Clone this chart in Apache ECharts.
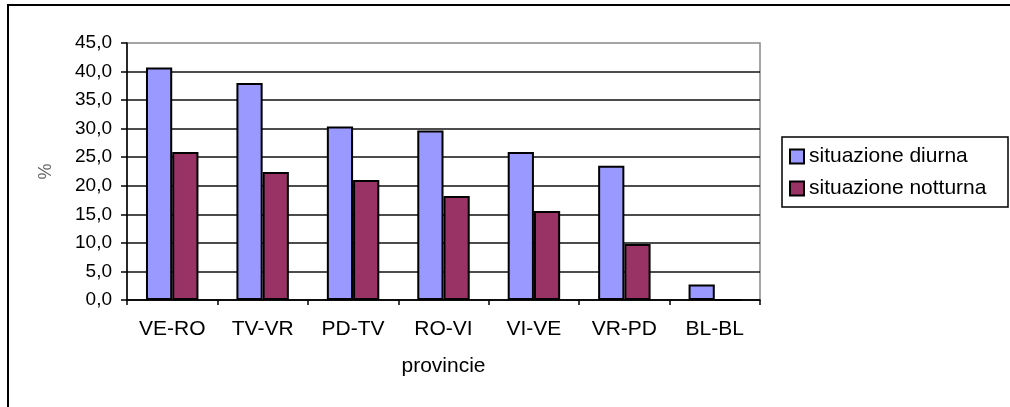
<!DOCTYPE html>
<html>
<head>
<meta charset="utf-8">
<script src="https://cdn.jsdelivr.net/npm/echarts@6/dist/echarts.min.js"></script>
<style>
html,body{margin:0;padding:0;background:#fff;}
#chart{width:1010px;height:407px;}
</style>
</head>
<body>
<div id="chart"></div>
<script>
const categories = ['VE-RO', 'TV-VR', 'PD-TV', 'RO-VI', 'VI-VE', 'VR-PD', 'BL-BL'];
const diurna = [40.7, 38.0, 30.4, 29.7, 25.9, 23.5, 2.7];
const notturna = [25.9, 22.4, 21.0, 18.2, 15.6, 9.8, 0];
const seriesNames = ['situazione diurna', 'situazione notturna'];
const yTicks = { min: 0, max: 45, interval: 5 };

const FONT = 'Liberation Sans, Arial, sans-serif';
const chart = echarts.init(document.getElementById('chart'));
chart.setOption({
  animation: false,
  backgroundColor: '#fff',
  textStyle: { fontFamily: FONT },
  grid: {
    left: 127, right: 250, top: 43, bottom: 107,
    show: true, borderColor: '#888', borderWidth: 1.5, backgroundColor: 'transparent'
  },
  graphic: [
    { type: 'rect', shape: { x: 8, y: 5, width: 1020, height: 420 },
      style: { fill: 'none', stroke: '#000', lineWidth: 2 }, silent: true, z: 0 },
    { type: 'rect', shape: { x: 782, y: 137, width: 226, height: 70 },
      style: { fill: '#fff', stroke: '#000', lineWidth: 1.5 }, silent: true, z: 1 }
  ],
  legend: {
    orient: 'vertical',
    left: 789, top: 146,
    padding: 0,
    itemGap: 11,
    itemWidth: 14, itemHeight: 14,
    icon: 'rect',
    z: 5,
    textStyle: { fontSize: 21, lineHeight: 20, color: '#000', fontFamily: FONT },
    data: seriesNames
  },
  xAxis: {
    type: 'category',
    data: categories,
    name: 'provincie',
    nameLocation: 'middle',
    nameGap: 56,
    nameTextStyle: { fontSize: 21, color: '#000', fontFamily: FONT },
    axisLine: { lineStyle: { color: '#000', width: 1.5 } },
    axisTick: { show: true, length: 5, lineStyle: { color: '#000', width: 1.5 } },
    axisLabel: { fontSize: 21, color: '#000', margin: 19, fontFamily: FONT, interval: 0 },
    splitLine: { show: false }
  },
  yAxis: {
    type: 'value',
    min: yTicks.min, max: yTicks.max, interval: yTicks.interval,
    name: '%',
    nameLocation: 'middle',
    nameRotate: 90,
    nameGap: 72,
    nameTextStyle: { fontSize: 18, color: '#666', fontFamily: FONT },
    axisLine: { show: true, lineStyle: { color: '#000', width: 1.5 } },
    axisTick: { show: true, length: 6, lineStyle: { color: '#000', width: 1.5 } },
    axisLabel: {
      fontSize: 19, color: '#000', margin: 15, fontFamily: FONT,
      formatter: v => v.toFixed(1).replace('.', ',')
    },
    splitLine: { show: true, showMaxLine: false, lineStyle: { color: '#111', width: 1.5 } }
  },
  series: [
    {
      name: seriesNames[0], type: 'bar', data: diurna,
      barGap: '0%', barCategoryGap: '42%',
      itemStyle: { color: '#9999FF', borderColor: '#000', borderWidth: 2 }
    },
    {
      name: seriesNames[1], type: 'bar', data: notturna,
      barGap: '0%', barCategoryGap: '42%',
      itemStyle: { color: '#993366', borderColor: '#000', borderWidth: 2 }
    }
  ]
});
</script>
</body>
</html>
